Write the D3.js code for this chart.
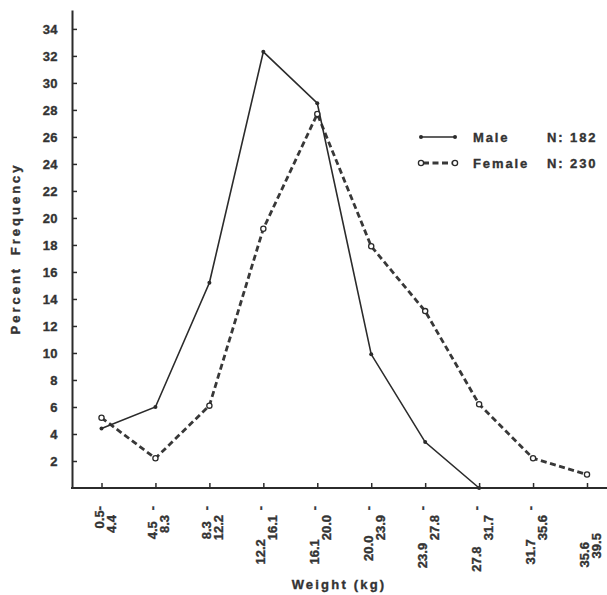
<!DOCTYPE html>
<html>
<head>
<meta charset="utf-8">
<script src="https://cdn.jsdelivr.net/npm/d3@7"></script>
<style>
  html, body { margin: 0; padding: 0; background: #fff; }
  svg { display: block; }
  text { font-family: "Liberation Sans", Arial, sans-serif; font-weight: bold; fill: #333; stroke: #333; stroke-width: 0.35px; }
</style>
</head>
<body>
<svg id="chart" width="607" height="595"></svg>
<script>
// Weight classes (kg)
const categories = ["0.5-4.4", "4.5-8.3", "8.3-12.2", "12.2-16.1", "16.1-20.0",
                    "20.0-23.9", "23.9-27.8", "27.8-31.7", "31.7-35.6", "35.6-39.5"];
// Two-line class labels as typed on the axis
const tickLine1 = ["0.5-", "4.5   -", "8.3   -", "12.2        -", "16.1        -",
                   "20.0       -", "23.9         -", "27.8          -", "31.7        -", "35.6          "];
const tickLine2 = ["4.4", "8.3", "12.2", "16.1", "20.0", "23.9", "27.8", "31.7", "35.6", "39.5     "];

// Percent frequency per class
const maleValues   = [4.4, 6.0, 15.2, 32.3, 28.5, 9.9, 3.4, 0];
const femaleValues = [5.2, 2.2, 6.1, 19.2, 27.7, 17.9, 13.1, 6.2, 2.2, 1.0];

const yTickValues = [2, 4, 6, 8, 10, 12, 14, 16, 18, 20, 22, 24, 26, 28, 30, 32, 34];

const legendItems = [
  { name: "Male",   n: "N: 182" },
  { name: "Female", n: "N: 230" }
];

const ink = "#2b2b2b";
const svg = d3.select("#chart");

const x = d3.scalePoint().domain(categories).range([101.5, 587]);
const y = d3.scaleLinear().domain([0, 35.4]).range([488, 10]);

// Y axis with inward ticks
const yAxis = svg.append("g")
  .attr("transform", "translate(72,0)")
  .call(d3.axisLeft(y).tickValues(yTickValues).tickSizeInner(-5).tickSizeOuter(0).tickPadding(14));
yAxis.select(".domain").attr("stroke", ink).attr("stroke-width", 2);
yAxis.selectAll(".tick line").attr("stroke", ink).attr("stroke-width", 1.5);
yAxis.selectAll(".tick text")
  .attr("font-size", 13)
  .attr("letter-spacing", 0.4)
  .attr("fill", "#333")
  .style("font-family", "'Liberation Sans', Arial, sans-serif")
  .style("font-weight", "bold");

// X axis with upward ticks; labels drawn separately
const xAxis = svg.append("g")
  .attr("transform", `translate(0,${y(0)})`)
  .call(d3.axisBottom(x).tickSizeInner(-5).tickSizeOuter(0).tickFormat(""));
xAxis.select(".domain").remove();
xAxis.selectAll(".tick line").attr("stroke", ink).attr("stroke-width", 1.5);
svg.append("line")
  .attr("x1", 71).attr("x2", 607)
  .attr("y1", y(0)).attr("y2", y(0))
  .attr("stroke", ink).attr("stroke-width", 2);

const labelGroup = svg.append("g");
categories.forEach((c, i) => {
  const cx = x(c);
  labelGroup.append("text")
    .attr("transform", `translate(${cx + 2},506) rotate(-90)`)
    .attr("text-anchor", "end")
    .attr("font-size", 13)
    .attr("xml:space", "preserve")
    .style("white-space", "pre")
    .text(tickLine1[i]);
  labelGroup.append("text")
    .attr("transform", `translate(${cx + 14},515) rotate(-90)`)
    .attr("text-anchor", "end")
    .attr("font-size", 13)
    .attr("xml:space", "preserve")
    .style("white-space", "pre")
    .text(tickLine2[i]);
});

// Axis titles
svg.append("text")
  .attr("x", 339).attr("y", 589)
  .attr("text-anchor", "middle")
  .attr("font-size", 13)
  .attr("letter-spacing", 2.2)
  .text("Weight (kg)");

svg.append("text")
  .attr("transform", "translate(19.5,248.5) rotate(-90)")
  .attr("text-anchor", "middle")
  .attr("font-size", 13)
  .attr("letter-spacing", 3)
  .attr("word-spacing", 4)
  .text("Percent Frequency");

// Lines
const lineGen = d3.line()
  .x((d, i) => x(categories[i]))
  .y(d => y(d));

svg.append("path")
  .datum(femaleValues)
  .attr("d", lineGen)
  .attr("fill", "none")
  .attr("stroke", "#383838")
  .attr("stroke-width", 2.8)
  .attr("stroke-dasharray", "6,3.5");

svg.append("path")
  .datum(maleValues)
  .attr("d", lineGen)
  .attr("fill", "none")
  .attr("stroke", ink)
  .attr("stroke-width", 1.6);

svg.append("g").selectAll("circle")
  .data(maleValues)
  .join("circle")
  .attr("cx", (d, i) => x(categories[i]))
  .attr("cy", d => y(d))
  .attr("r", 2)
  .attr("fill", ink);

svg.append("g").selectAll("circle")
  .data(femaleValues)
  .join("circle")
  .attr("cx", (d, i) => x(categories[i]))
  .attr("cy", d => y(d))
  .attr("r", 2.6)
  .attr("fill", "#fff")
  .attr("stroke", ink)
  .attr("stroke-width", 1.3);

// Legend
const legend = svg.append("g");
const rows = [137, 163];
legendItems.forEach((item, i) => {
  const ry = rows[i];
  if (i === 0) {
    legend.append("line")
      .attr("x1", 421).attr("x2", 455).attr("y1", ry).attr("y2", ry)
      .attr("stroke", ink).attr("stroke-width", 1.6);
    [421, 455].forEach(px => legend.append("circle")
      .attr("cx", px).attr("cy", ry).attr("r", 2).attr("fill", ink));
  } else {
    legend.append("line")
      .attr("x1", 421).attr("x2", 455).attr("y1", ry).attr("y2", ry)
      .attr("stroke", "#383838").attr("stroke-width", 2.8)
      .attr("stroke-dasharray", "6,3.5").attr("stroke-dashoffset", -2);
    [421, 455].forEach(px => legend.append("circle")
      .attr("cx", px).attr("cy", ry).attr("r", 2.6)
      .attr("fill", "#fff").attr("stroke", ink).attr("stroke-width", 1.3));
  }
  legend.append("text")
    .attr("x", 473).attr("y", ry + 4.5)
    .attr("font-size", 13)
    .attr("letter-spacing", 1.9)
    .text(item.name);
  legend.append("text")
    .attr("x", 547).attr("y", ry + 4.5)
    .attr("font-size", 13)
    .attr("letter-spacing", 1.9)
    .attr("xml:space", "preserve")
    .style("white-space", "pre")
    .text(item.n);
});
</script>
</body>
</html>
